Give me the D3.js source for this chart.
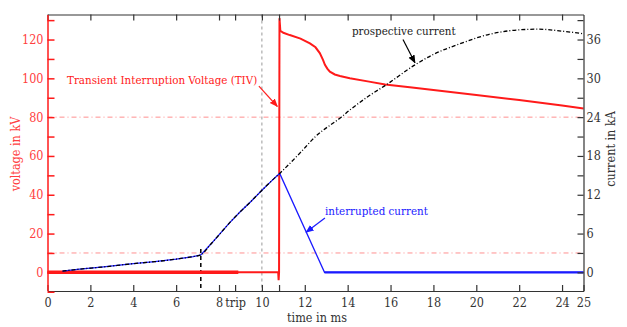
<!DOCTYPE html>
<html>
<head>
<meta charset="utf-8">
<script src="https://cdn.jsdelivr.net/npm/d3@7"></script>
<style>
	body { margin: 0; background: #fff; }
	text { font-family: "DejaVu Serif Condensed", "DejaVu Serif", serif; font-stretch: condensed; }
</style>
</head>
<body>
<div id="chart"></div>
<script>
// time axis (ms)
let timeTicks = [0, 2, 4, 6, 8, 8.75, 10, 10.8, 12, 14, 16, 18, 20, 22, 24, 25];
let timeTickLabels = ["0", "2", "4", "6", "8", "trip", "10", "", "12", "14", "16", "18", "20", "22", "24", "25"];

// voltage across the breaker (kV)
let voltTime = [0, 8.9, 10.76, 10.78, 10.8, 10.82, 10.86, 11.0, 11.3, 11.8, 12.24, 12.5, 12.7, 12.85, 12.94, 13.05, 13.17, 13.4, 13.64, 14.1, 15, 15.75, 17, 18, 20, 22, 24, 25];
let voltValues = [0, 0, 0, -4, 0, 131, 124.5, 123.5, 122.3, 120.5, 118, 116, 113, 109.5, 107, 105, 103.4, 102, 101.2, 100, 98.3, 96.8, 95.3, 94, 91.4, 88.8, 86, 84.5];

// interrupted current (kA)
let curTime = [0.7, 1.5, 2.5, 4.0, 5.0, 6.0, 6.8, 7.15, 7.6, 8.0, 8.5, 9.0, 9.5, 10.0, 10.5, 10.83, 12.92, 13.5, 25];
let curValues = [0.2, 0.5, 0.8, 1.35, 1.65, 2.05, 2.45, 2.7, 4.3, 5.8, 7.7, 9.4, 11.0, 12.7, 14.3, 15.3, 0, 0, 0];

// prospective current (kA)
let prospTime = [0.7, 1.5, 2.5, 4.0, 5.0, 6.0, 6.8, 7.15, 7.6, 8.0, 8.5, 9.0, 9.5, 10.0, 10.5, 10.83, 11.76, 12.5, 13.7, 14.1, 15, 15.8, 17.1, 18, 19.2, 20.6, 22, 22.9, 24, 25];
let prospValues = [0.2, 0.5, 0.8, 1.35, 1.65, 2.05, 2.45, 2.7, 4.3, 5.8, 7.7, 9.4, 11.0, 12.7, 14.3, 15.3, 18.4, 21, 24, 25.1, 27.3, 29.0, 32.0, 33.7, 35.3, 36.8, 37.5, 37.6, 37.3, 36.9];

// reference levels (kV) and markers (ms)
let voltLevels = [80, 10];
let tenMs = 10;
let arcStart = 7.15, arcStartCurrent = 3.6;

let width = 627, height = 327;
let margin = {top: 14.5, right: 43.5, bottom: 36, left: 47.5};

let x = d3.scaleLinear().domain([0, 25]).range([margin.left, width - margin.right]);
let yV = d3.scaleLinear().domain([-9.6, 132.9]).range([height - margin.bottom, margin.top]);
let yI = d3.scaleLinear().domain([-9.6 * 0.3, 132.9 * 0.3]).range([height - margin.bottom, margin.top]);

let svg = d3.select("#chart").append("svg")
	.attr("width", width)
	.attr("height", height);

let red = "#ff1a1a", blue = "#1a1aff", grey = "#333";

// reference lines
svg.selectAll(".lvl").data(voltLevels).enter().append("line")
	.attr("x1", x(0)).attr("x2", x(25))
	.attr("y1", d => yV(d)).attr("y2", d => yV(d))
	.attr("stroke", "#ff9090").attr("stroke-width", 1)
	.attr("stroke-dasharray", "5,3,1,3");

svg.append("line")
	.attr("x1", x(tenMs)).attr("x2", x(tenMs))
	.attr("y1", yV(132.9)).attr("y2", yV(-9.6))
	.attr("stroke", "#999").attr("stroke-width", 1)
	.attr("stroke-dasharray", "3,3");

svg.append("line")
	.attr("x1", x(arcStart)).attr("x2", x(arcStart))
	.attr("y1", yI(arcStartCurrent)).attr("y2", yI(-2.88))
	.attr("stroke", "#000").attr("stroke-width", 1.5)
	.attr("stroke-dasharray", "4,3");

// series
let volt = voltTime.map((t, i) => ({t: t, v: voltValues[i]}));
let cur = curTime.map((t, i) => ({t: t, v: curValues[i]}));
let prosp = prospTime.map((t, i) => ({t: t, v: prospValues[i]}));

let lineV = d3.line().x(d => x(d.t)).y(d => yV(d.v));
let lineI = d3.line().x(d => x(d.t)).y(d => yI(d.v));

svg.append("path")
	.datum(volt.filter(d => d.t <= 8.9))
	.attr("fill", "none").attr("stroke", red).attr("stroke-width", 3.5)
	.attr("d", lineV);

svg.append("path")
	.datum(volt)
	.attr("fill", "none").attr("stroke", red).attr("stroke-width", 2)
	.attr("d", lineV);

svg.append("path")
	.datum(cur)
	.attr("fill", "none").attr("stroke", blue).attr("stroke-width", 1.3)
	.attr("d", lineI);

svg.append("path")
	.datum(cur.filter(d => d.t >= 12.92))
	.attr("fill", "none").attr("stroke", blue).attr("stroke-width", 2.2)
	.attr("d", lineI);

svg.append("path")
	.datum(prosp)
	.attr("fill", "none").attr("stroke", "#000").attr("stroke-width", 1.3)
	.attr("stroke-dasharray", "4,2,1,2")
	.attr("d", lineI.curve(d3.curveMonotoneX));

// axes
let plotB = height - margin.bottom, plotT = margin.top;

let xBottom = svg.append("g")
	.attr("transform", "translate(0," + plotB + ")")
	.call(d3.axisBottom(x).tickValues(timeTicks).tickSize(-6).tickSizeOuter(0).tickPadding(7)
		.tickFormat((d, i) => timeTickLabels[i]));
let xTop = svg.append("g")
	.attr("transform", "translate(0," + plotT + ")")
	.call(d3.axisTop(x).tickValues(timeTicks.filter(d => d < 25)).tickSize(-6).tickSizeOuter(0).tickFormat(""));

let yLeft = svg.append("g")
	.attr("transform", "translate(" + margin.left + ",0)")
	.call(d3.axisLeft(yV).tickValues(d3.range(-10, 131, 10)).tickSize(-7).tickSizeOuter(0).tickPadding(4)
		.tickFormat(d => d >= 0 && d % 20 === 0 ? d : ""));

let yRight = svg.append("g")
	.attr("transform", "translate(" + (width - margin.right) + ",0)")
	.call(d3.axisRight(yI).tickValues(d3.range(0, 40, 3)).tickSize(-6).tickSizeOuter(0).tickPadding(3)
		.tickFormat(d => d % 6 === 0 ? d : ""));

[xBottom, xTop, yLeft, yRight].forEach(g => g.attr("font-family", null).attr("font-size", null));
[xBottom, xTop, yRight].forEach(g => {
	g.selectAll("path, line").attr("stroke", grey).attr("stroke-width", 1.2);
	g.selectAll("text").attr("fill", grey).style("font-size", "12.5px");
});
yLeft.selectAll("path, line").attr("stroke", red).attr("stroke-width", 1.5);
yLeft.selectAll("text").attr("fill", "#ff4040").style("font-size", "12.5px");

// axis titles
svg.append("text")
	.attr("transform", "translate(20,154) rotate(-90)")
	.attr("text-anchor", "middle").attr("fill", "#ff4040").style("font-size", "12.5px")
	.text("voltage in kV");
svg.append("text")
	.attr("transform", "translate(615,149) rotate(-90)")
	.attr("text-anchor", "middle").attr("fill", grey).style("font-size", "12.5px")
	.text("current in kA");
svg.append("text")
	.attr("x", 317).attr("y", 322)
	.attr("text-anchor", "middle").attr("fill", grey).style("font-size", "12.5px")
	.text("time in ms");

// annotations
let defs = svg.append("defs");
[["arRed", red], ["arBlue", blue], ["arBlack", "#000"]].forEach(m => {
	defs.append("marker")
		.attr("id", m[0]).attr("viewBox", "0 0 10 10")
		.attr("refX", 9).attr("refY", 5)
		.attr("markerWidth", 7).attr("markerHeight", 7)
		.attr("orient", "auto")
		.append("path").attr("d", "M0,1L10,5L0,9Z").attr("fill", m[1]);
});

let notes = [
	{text: "Transient Interruption Voltage (TIV)", color: "#ff2020", scale: yV, tx: 0.91, ty: 97, from: [9.86, 96], to: [10.72, 85.5], marker: "arRed"},
	{text: "prospective current", color: "#222", scale: yI, tx: 14.2, ty: 36.7, from: [16.58, 36.0], to: [17.14, 32.4], marker: "arBlack"},
	{text: "interrupted current", color: blue, scale: yI, tx: 12.94, ty: 8.9, from: [12.94, 8.4], to: [12.06, 6.2], marker: "arBlue"}
];
notes.forEach(n => {
	svg.append("text")
		.attr("x", x(n.tx)).attr("y", n.scale(n.ty))
		.attr("fill", n.color).style("font-size", "11.5px")
		.text(n.text);
	svg.append("line")
		.attr("x1", x(n.from[0])).attr("y1", n.scale(n.from[1]))
		.attr("x2", x(n.to[0])).attr("y2", n.scale(n.to[1]))
		.attr("stroke", n.color === "#222" ? "#000" : n.color).attr("stroke-width", 1.2)
		.attr("marker-end", "url(#" + n.marker + ")");
});
</script>
</body>
</html>
